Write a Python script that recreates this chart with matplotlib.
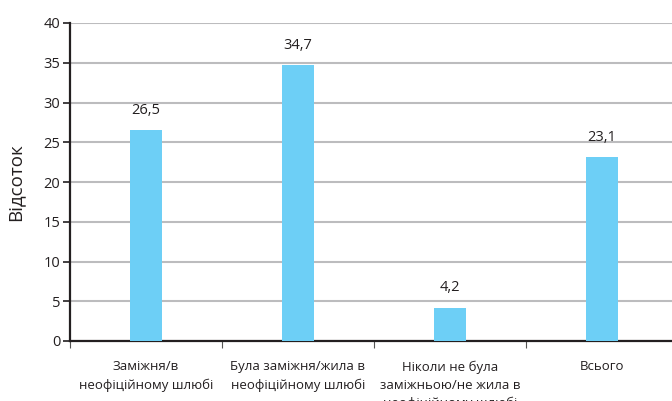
import matplotlib
matplotlib.use("Agg")
import matplotlib.pyplot as plt
from matplotlib.ticker import FixedLocator, NullFormatter

plt.rcParams["font.family"] = ["Open Sans", "DejaVu Sans"]

categories = [
    "Заміжня/в\nнеофіційному шлюбі",
    "Була заміжня/жила в\nнеофіційному шлюбі",
    "Ніколи не була\nзаміжньою/не жила в\nнеофіційному шлюбі",
    "Всього",
]
values = [26.5, 34.7, 4.2, 23.1]
value_labels = ["26,5", "34,7", "4,2", "23,1"]
y_ticks = [0, 5, 10, 15, 20, 25, 30, 35, 40]

BAR_COLOR = "#6dcff6"
TEXT_COLOR = "#231f20"
GRID_COLOR = "#bcbcbe"

W, H = 672, 401
fig = plt.figure(figsize=(W / 100, H / 100), dpi=100)
# axis spans 70..678 px horizontally (runs past the right edge), 23..341 px vertically
ax = fig.add_axes([70 / W, (H - 341) / H, 608 / W, 318 / H])

x = list(range(len(categories)))
ax.bar(x, values, width=0.21, color=BAR_COLOR, zorder=3)

for xi, v, lab in zip(x, values, value_labels):
    ax.annotate(lab, (xi, v), xytext=(0, 9), textcoords="offset points",
                ha="center", va="bottom", fontsize=10.5, color=TEXT_COLOR)

ax.set_xlim(-0.5, len(categories) - 0.5)
ax.set_ylim(0, 40)
ax.set_yticks(y_ticks)
ax.yaxis.grid(True, color=GRID_COLOR, linewidth=1.5, zorder=0)
ax.set_axisbelow(True)

# category labels centred, boundary ticks at the edges
ax.xaxis.set_major_locator(FixedLocator([i - 0.5 for i in range(len(categories) + 1)]))
ax.xaxis.set_major_formatter(NullFormatter())
ax.set_xticks(x, minor=True)
ax.set_xticklabels(categories, minor=True, fontsize=9.5, color=TEXT_COLOR,
                   linespacing=1.5, va="top")
ax.tick_params(axis="x", which="minor", length=0, pad=14)
ax.tick_params(axis="x", which="major", length=5, width=0.8, color="#555555")
ax.tick_params(axis="y", length=5, width=1.2, color=TEXT_COLOR,
               labelsize=10.5, labelcolor=TEXT_COLOR, pad=2)

for side in ("top", "right"):
    ax.spines[side].set_visible(False)
for side in ("left", "bottom"):
    ax.spines[side].set_linewidth(1.6)
    ax.spines[side].set_color(TEXT_COLOR)

ax.set_ylabel("Відсоток", fontsize=13.5, color=TEXT_COLOR, labelpad=14)

fig.savefig("out.png", dpi=100)
